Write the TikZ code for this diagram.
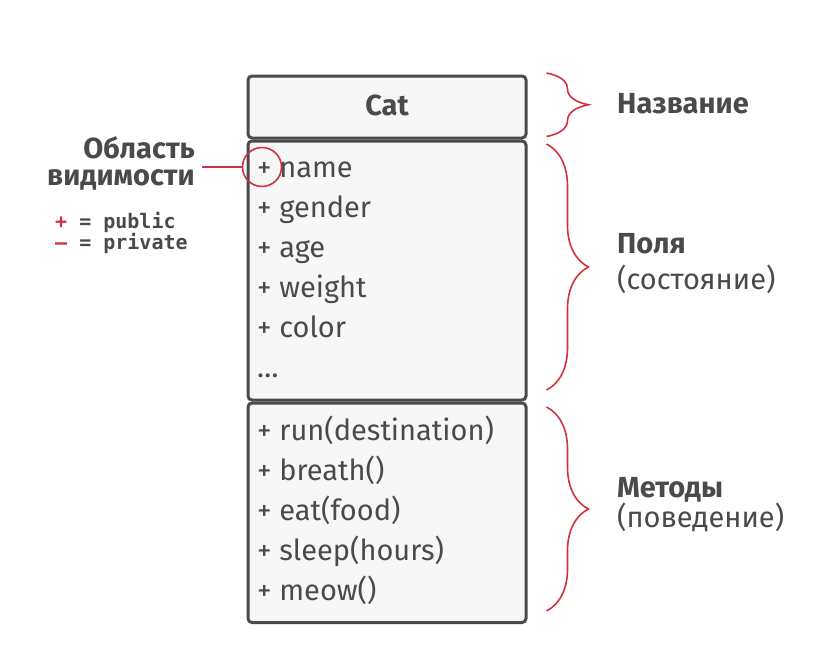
\documentclass[tikz,border=0pt]{standalone}
\usepackage{fontspec}
\setmainfont{Fira Sans}
\setmonofont{DejaVu Sans Mono}
\usetikzlibrary{positioning, decorations.pathreplacing, calc}

\definecolor{umlgray}{HTML}{4A4A4A}
\definecolor{umlfill}{HTML}{F7F7F7}
\definecolor{umlred}{HTML}{D2323F}

\begin{document}
\begin{tikzpicture}[x=1pt,y=-1pt,
    compartment/.style={draw=umlgray, line width=3pt, rounded corners=4pt, fill=umlfill, anchor=north west, minimum width=278pt},
    member/.style={anchor=base west, inner sep=0pt, text=umlgray, font=\fontsize{29}{34}\selectfont},
    caption/.style={anchor=base west, inner sep=0pt, text=umlgray, font=\fontsize{29}{34}\selectfont},
    headline/.style={caption, font=\fontsize{29}{34}\selectfont\bfseries},
    bracket/.style={draw=umlred, line width=1.6pt, decorate, decoration={brace, amplitude=42pt}},
    legend/.style={anchor=base west, inner sep=0pt, text=umlgray, font=\fontsize{20}{24}\selectfont\ttfamily\bfseries}
]
\useasboundingbox (0,0) rectangle (815,646);

% Class compartments
\node[compartment, minimum height=62pt] (title) at (246.5,74.5) {};
\node[compartment, minimum height=259pt] (fields) at (246.5,139.5) {};
\node[compartment, minimum height=219.5pt] (methods) at (246.5,401.5) {};
\node[text=umlgray, font=\fontsize{29}{34}\selectfont\bfseries] (classname) at ($(title.center)+(0,-2)$) {Cat};

% Fields and methods
\foreach \m [count=\i from 0] in {name, gender, age, weight, color}
  \node[member] (field\i) at (257,177+40*\i) {+ \m};
\node[member] (fieldmore) at (257,377) {…};
\foreach \m [count=\i from 0] in {run(destination), breath(), eat(food), sleep(hours), meow()}
  \node[member] (method\i) at (257,440+40*\i) {+ \m};

% Braces
\draw[bracket] ($(title.north east)+(19,-1.5)$) -- ($(title.south east)+(19,-3)$);
\draw[bracket] ($(fields.north east)+(19,4.5)$) -- ($(fields.south east)+(19,-11.5)$);
\draw[bracket] ($(methods.north east)+(19,5.5)$) -- ($(methods.south east)+(19,-13)$);

% Brace labels
\node[headline] (namelabel) at (617,113) {Название};
\node[headline] (fieldlabel) at (617,253) {Поля};
\node[caption] (fieldnote) at (617,289) {(состояние)};
\node[headline] (methodlabel) at (617,497) {Методы};
\node[caption] (methodnote) at (617,527) {(поведение)};

% Visibility
\node[draw=umlred, circle, line width=1.6pt, minimum size=39pt, inner sep=0pt] (vis) at (262,167) {};
\coordinate (visend) at (202,167);
\draw[umlred, line width=1.6pt] (vis.west) -- (visend);
\node[headline, anchor=base east] (vislabel) at (195,158) {Область};
\node[headline, anchor=base east] (vislabel2) at (195,185) {видимости};
\node[legend] (pub) at (55,228) {\textcolor{umlred}{+} = public};
\node[legend] (priv) at (55,249) {\textcolor{umlred}{–} = private};

\end{tikzpicture}
\end{document}
